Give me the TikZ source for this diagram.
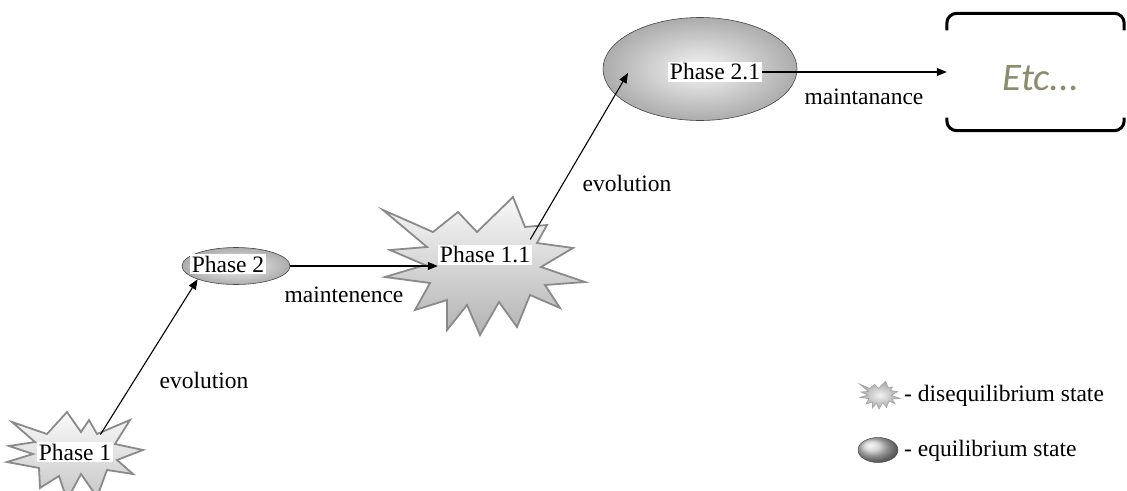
\documentclass[tikz,border=0pt]{standalone}
\usepackage{fontspec}
\setmainfont{Liberation Serif}
\newfontfamily\etcfont{Carlito}
\usetikzlibrary{shapes.geometric,arrows.meta,calc}
\definecolor{edgegray}{HTML}{8A8A8A}
\definecolor{etcolive}{HTML}{8E8C6C}
% outline of the large burst (offsets from its centre, y downwards)
\def\burstbig{(-102,-55) -- (-52,-33) -- (-27,-53) -- (-8,-33) -- (28,-68)
  -- (40,-38) -- (62,-40) -- (52,-22) -- (88,-17) -- (56,2) -- (100,17)
  -- (60,20) -- (75,43) -- (45,30) -- (32,62) -- (14,37) -- (-5,70)
  -- (-18,40) -- (-38,65) -- (-38,35) -- (-70,45) -- (-55,18) -- (-100,12)
  -- (-60,0) -- (-95,-15) -- (-58,-18) -- cycle}
% outline of the small burst
\def\burstsmall{(-63,-30) -- (-28,-18) -- (-8,-40) -- (6,-20) -- (14,-32)
  -- (22,-18) -- (55,-32) -- (40,-8) -- (68,-2) -- (42,8) -- (58,22)
  -- (32,18) -- (22,45) -- (6,22) -- (-8,48) -- (-16,24) -- (-35,36)
  -- (-36,16) -- (-68,10) -- (-42,2) -- (-66,-6) -- (-40,-10) -- cycle}
\begin{document}
\begin{tikzpicture}[x=1pt,y=-1pt,
  burst/.style={draw=edgegray, line width=1.8pt, line join=miter,
    top color=gray!5, bottom color=gray!60},
  eq/.style={ellipse, draw=gray!55!black, line width=0.6pt,
    inner color=gray!8, outer color=gray!65, inner sep=0pt},
  lbl/.style={fill=white, inner sep=2pt, font=\fontsize{23.5}{26}\selectfont},
  txt/.style={inner sep=0pt, font=\fontsize{23.5}{26}\selectfont},
  arr/.style={line width=1.1pt, -{Triangle[length=10pt,width=8pt]}},
  bracket/.style={line width=3pt, rounded corners=10pt},
]
\useasboundingbox (0,0) rectangle (1127,490);

% disequilibrium and equilibrium states
\coordinate (p1) at (75,452);
\draw[burst, top color=gray!4, bottom color=gray!45, shift={(p1)}] \burstsmall;
\node[lbl] (p1t) at (p1) {Phase 1};

\node[eq, minimum width=108pt, minimum height=37pt] (p2) at (236,266) {};
\node[lbl] (p2t) at (228,264) {Phase 2};

\coordinate (p11) at (485,265);
\draw[burst, shift={(p11)}] \burstbig;
\node[lbl] (p11t) at (485,255) {Phase 1.1};

\node[eq, minimum width=194pt, minimum height=103pt] (p21) at (700,69) {};
\node[lbl] (p21t) at (715,72) {Phase 2.1};

% open box around "Etc..."
\node[minimum width=177pt, minimum height=117pt, inner sep=0pt] (etcbox) at (1035.5,72) {};
\draw[bracket] ($(etcbox.north west)+(0,17)$) -- (etcbox.north west)
  -- (etcbox.north east) -- ($(etcbox.north east)+(0,17)$);
\draw[bracket] ($(etcbox.south west)+(0,-13)$) -- (etcbox.south west)
  -- (etcbox.south east) -- ($(etcbox.south east)+(0,-13)$);
\node[inner sep=0pt, text=etcolive,
  font=\etcfont\itshape\fontsize{39}{42}\selectfont] (etc) at (1041,78) {Etc...};

% transitions
\draw[arr] ($(p1t.north east)+(-13,-7)$) -- (p2.south west);
\draw[arr] (p2.east) -- (p2.east -| p11t.west);
\draw[arr] ($(p11t.north east)+(-2,-5)$) -- ($(p21)+(-72,4)$);
\draw[arr] (p21t.east) -- (etcbox.west);

\node[txt] (l1) at (204,380) {evolution};
\node[txt] (l2) at (344,295) {maintenence};
\node[txt] (l3) at (627,183) {evolution};
\node[txt] (l4) at (864,97) {maintanance};

% legend
\coordinate (lg1) at (880,395);
\draw[draw=gray!70, line width=0.7pt, inner color=gray!10, outer color=gray!70,
  shift={(lg1)}, scale=0.2] \burstbig;
\node[txt, anchor=west] (lg1t) at (904,396) {- disequilibrium state};
\node[ellipse, draw=gray!60!black, line width=0.5pt, ball color=gray!40,
  minimum width=40pt, minimum height=25pt] (lg2) at (878,450) {};
\node[txt, anchor=west] (lg2t) at (904,451) {- equilibrium state};
\end{tikzpicture}
\end{document}
